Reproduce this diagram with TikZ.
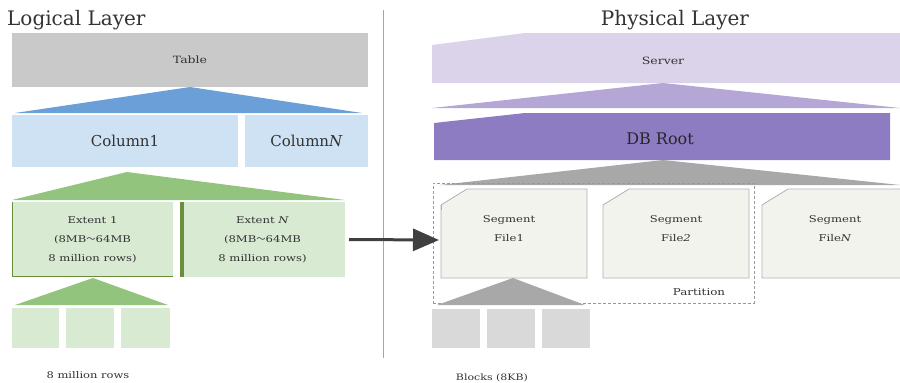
\documentclass[tikz,border=0pt]{standalone}
\usepackage{fontspec}
\setmainfont{DejaVu Serif}
\newfontfamily\wide{DejaVu Serif}[FakeStretch=1.25]
\newfontfamily\cjk{Noto Sans CJK SC}
\usetikzlibrary{arrows.meta}
\definecolor{tblgray}{HTML}{C9C9C9}
\definecolor{blutri}{HTML}{6A9FD8}
\definecolor{lblue}{HTML}{CFE2F3}
\definecolor{grntri}{HTML}{93C47D}
\definecolor{lgreen}{HTML}{D9EAD3}
\definecolor{dgreen}{HTML}{6B8E3D}
\definecolor{lavender}{HTML}{DAD3E9}
\definecolor{purtri}{HTML}{B4A7D6}
\definecolor{dbroot}{HTML}{8E7CC3}
\definecolor{graytri}{HTML}{A8A8A8}
\definecolor{segfill}{HTML}{F3F3EE}
\definecolor{segline}{HTML}{B0B0B0}
\definecolor{blockgray}{HTML}{D9D9D9}
\definecolor{txt}{HTML}{333333}
\begin{document}
\begin{tikzpicture}[x=1pt,y=-1pt,
  boxstyle/.style={anchor=north west, inner sep=0pt, outer sep=0pt, draw=none, text=txt, align=center},
  tiny/.style={font=\wide\fontsize{10}{12}\selectfont},
  mid/.style={font=\wide\fontsize{9.3}{19}\selectfont},
  big/.style={font=\fontsize{15}{18}\selectfont},
  title/.style={font=\fontsize{20}{24}\selectfont, text=txt, inner sep=0pt},
  seg/.style={fill=segfill, draw=segline, line width=0.8pt},
  bigarrow/.style={draw=black!75, line width=3pt, -{Triangle[length=26pt,width=22pt]}}
]
\useasboundingbox (0,0) rectangle (900,383);
% titles
\node[title, anchor=west] (tl) at (7,20) {Logical Layer};
\node[title] (tp) at (675,20) {Physical Layer};
% divider
\draw[black!35, line width=1pt] (383,10) -- (383,358);

% ---------- Logical ----------
\node[boxstyle, fill=tblgray, minimum width=356pt, minimum height=54pt, tiny] (table) at (12,33) {Table};
\fill[blutri] (190,87) -- (362,113) -- (15,113) -- cycle;
\node[boxstyle, fill=lblue, minimum width=226pt, minimum height=52pt, big] (col1) at (12,115) {Column1};
\node[boxstyle, fill=lblue, minimum width=123pt, minimum height=52pt, big] (colN) at (245,115) {Column\textit{N}};
\fill[grntri] (127,172) -- (345,200) -- (12,200) -- cycle;
\node[boxstyle, fill=lgreen, minimum width=161pt, minimum height=75pt, mid] (ext1) at (12,202) {Extent 1\\(8MB{\cjk～}64MB\\8 million rows)};
\draw[dgreen, line width=1.5pt] (12.7,202) -- (12.7,276.3) -- (173,276.3);
\node[boxstyle, fill=lgreen, minimum width=165pt, minimum height=75pt, mid] (extN) at (180,202) {Extent \textit{N}\\(8MB{\cjk～}64MB\\8 million rows)};
\draw[dgreen, line width=4pt] (182,202) -- (182,277);
\fill[grntri] (93,278) -- (168,305) -- (15,305) -- cycle;
\node[boxstyle, fill=lgreen, minimum width=47pt, minimum height=40pt] (lb1) at (12,308) {};
\node[boxstyle, fill=lgreen, minimum width=48pt, minimum height=40pt] (lb2) at (66,308) {};
\node[boxstyle, fill=lgreen, minimum width=49pt, minimum height=40pt] (lb3) at (121,308) {};
\node[text=txt, font=\wide\fontsize{9.2}{11}\selectfont, inner sep=0pt] (rows) at (88,375) {8 million rows};

% ---------- Physical ----------
\fill[lavender] (432,45) -- (525,33) -- (900,33) -- (900,83) -- (432,83) -- cycle;
\node[text=txt, tiny, inner sep=0pt] (server) at (663,61) {Server};
\fill[purtri] (663,83) -- (900,108) -- (432,108) -- cycle;
\fill[dbroot] (434,123) -- (525,113) -- (890,113) -- (890,160) -- (434,160) -- cycle;
\node[text=black!85, font=\fontsize{16}{19}\selectfont, inner sep=0pt] (db) at (660,139) {DB Root};
\fill[graytri] (663,160) -- (900,185) -- (440,185) -- cycle;
% partition
\node[boxstyle, draw=black!40, densely dashed, line width=0.6pt, minimum width=321pt, minimum height=120pt] (part) at (433,183) {};
\node[text=txt, font=\wide\fontsize{9.5}{11}\selectfont, inner sep=0pt] (ptext) at (699,292) {Partition};
% segment files
\path[seg] (441,205) -- (467,189) -- (587,189) -- (587,278) -- (441,278) -- cycle;
\draw[segline, line width=0.8pt] (441,205) -- (441,210);
\node[text=txt, mid, inner sep=0pt, align=center] (seg1) at (509,229) {Segment\\File1};
\path[seg] (603,205) -- (629,189) -- (749,189) -- (749,278) -- (603,278) -- cycle;
\node[text=txt, mid, inner sep=0pt, align=center] (seg2) at (676,229) {Segment\\File\textit{2}};
\path[seg] (762,205) -- (788,189) -- (905,189) -- (905,278) -- (762,278) -- cycle;
\node[text=txt, mid, inner sep=0pt, align=center] (segN) at (835,229) {Segment\\File\textit{N}};
\coordinate (seg1w) at (439,240);
\fill[graytri] (513,278) -- (585,305) -- (437,305) -- cycle;
\node[boxstyle, fill=blockgray, minimum width=48pt, minimum height=39pt] (pb1) at (432,309) {};
\node[boxstyle, fill=blockgray, minimum width=48pt, minimum height=39pt] (pb2) at (487,309) {};
\node[boxstyle, fill=blockgray, minimum width=48pt, minimum height=39pt] (pb3) at (542,309) {};
\node[text=txt, font=\wide\fontsize{8.8}{11}\selectfont, inner sep=0pt] (blocks) at (492,378) {Blocks (8KB)};

% arrow
\draw[bigarrow] ([xshift=4pt]extN.east) -- (seg1w);
\end{tikzpicture}
\end{document}
